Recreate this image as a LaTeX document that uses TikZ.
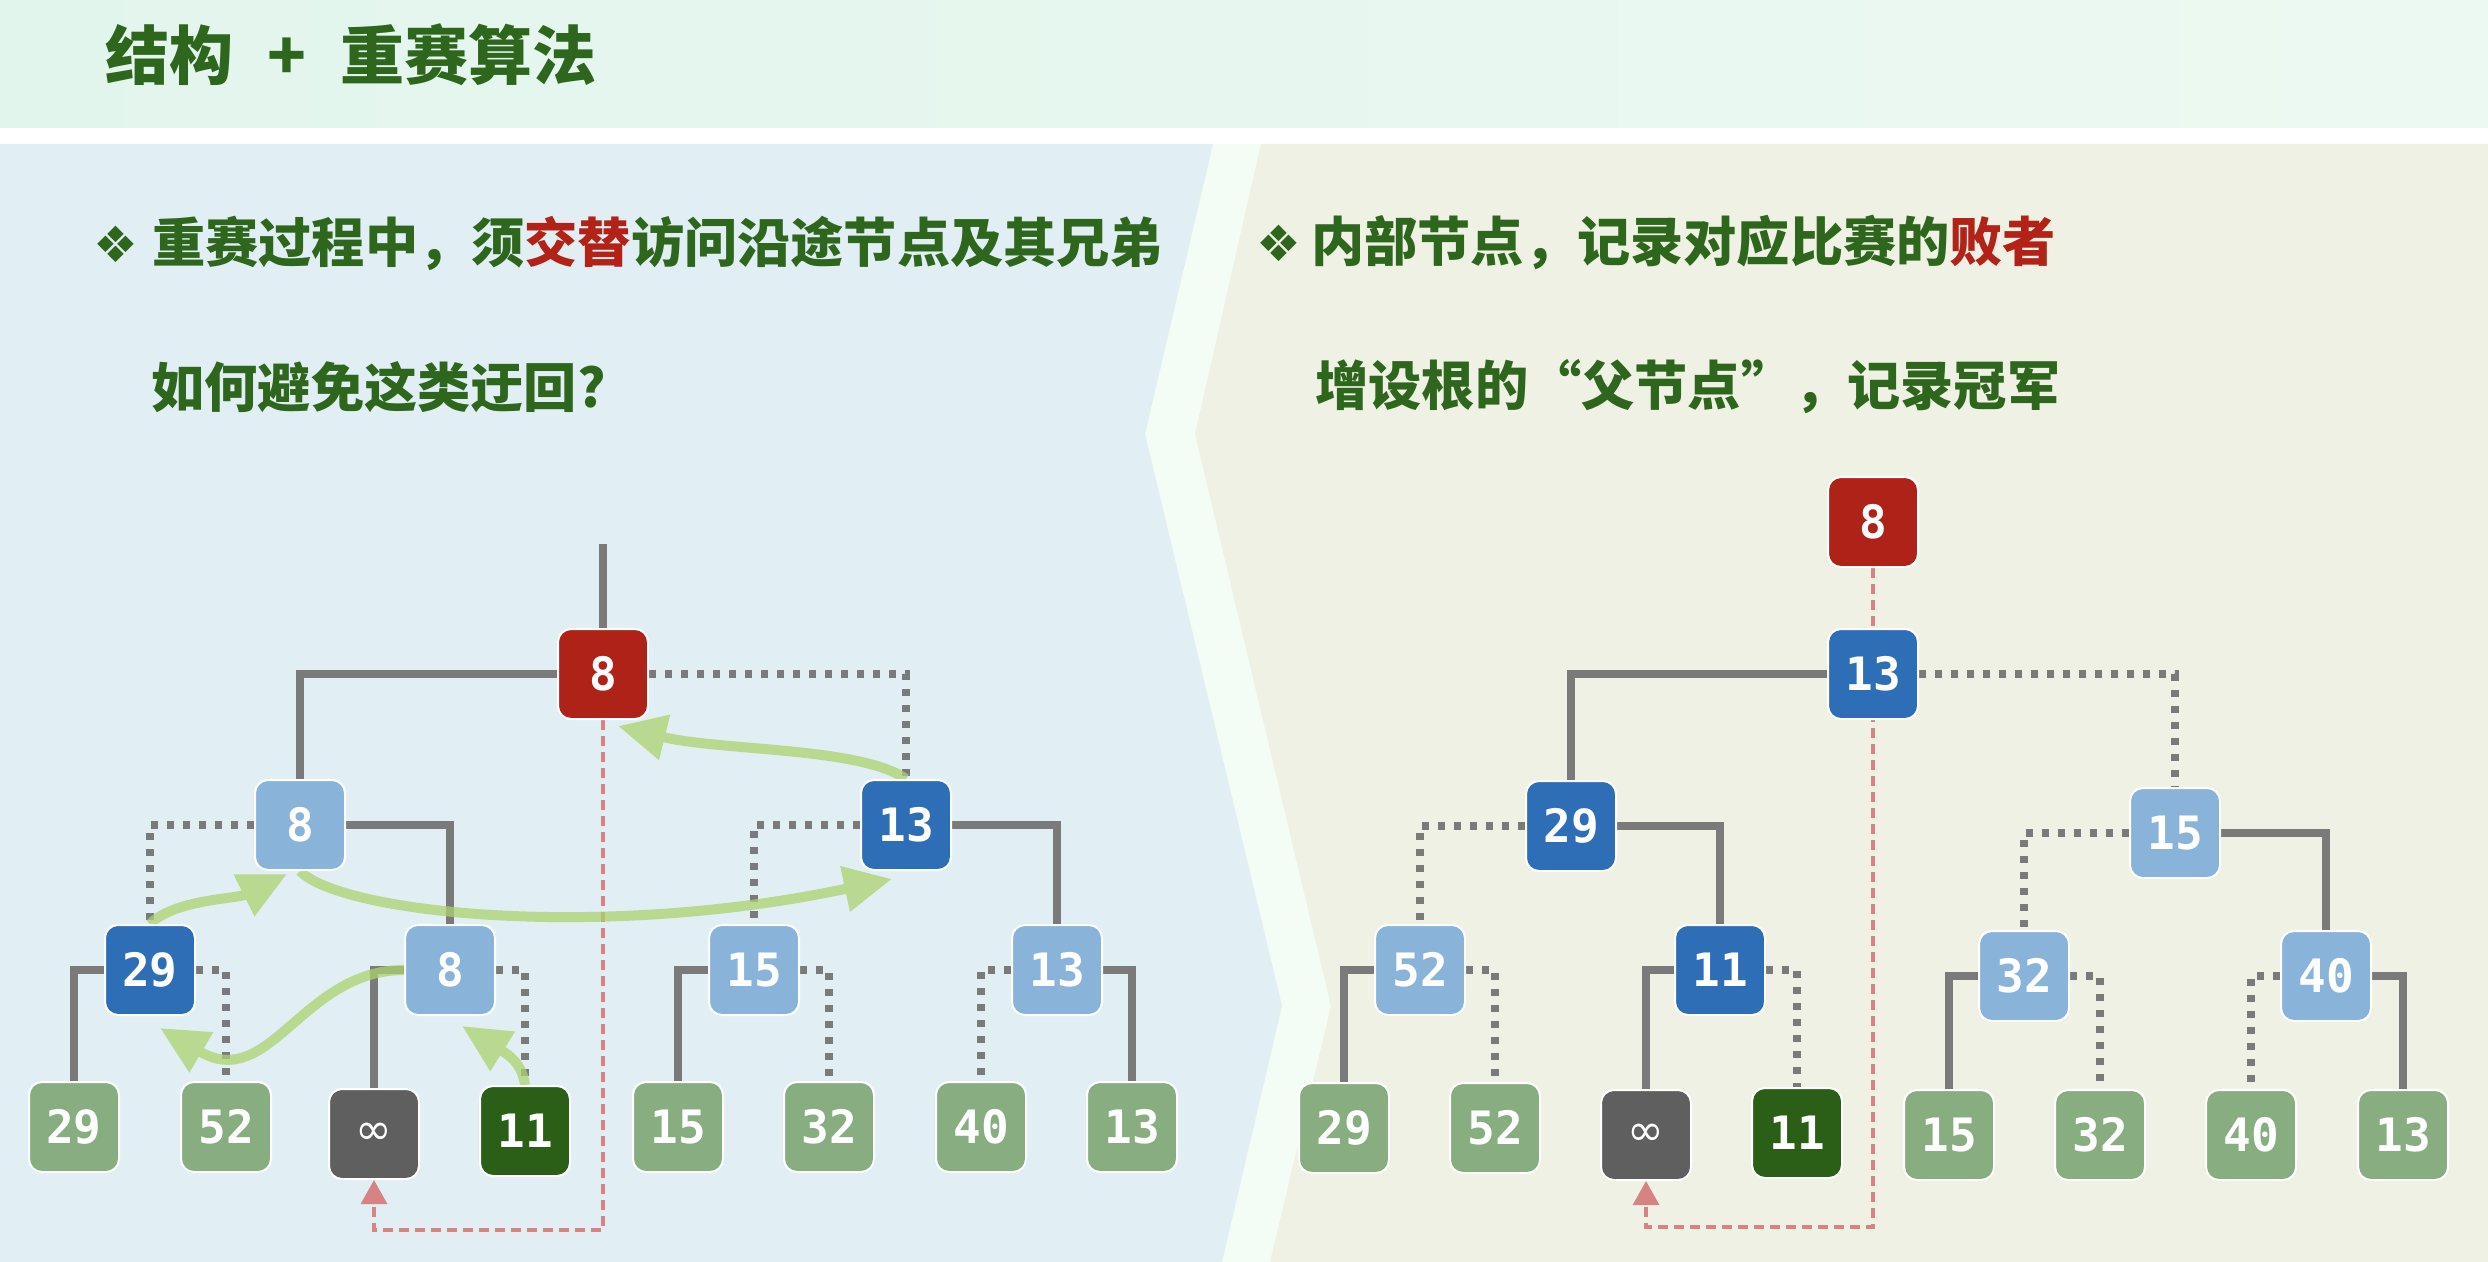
\documentclass[tikz,border=0pt]{standalone}
\usepackage{fontspec}
\usetikzlibrary{arrows.meta,calc}
\newfontfamily\cjk{Noto Sans CJK SC}
\newfontfamily\numfont{DejaVu Sans Mono}
\newfontfamily\symfont{DejaVu Sans}
\definecolor{hdleft}{HTML}{E2F5EC}
\definecolor{hdright}{HTML}{ECF9F2}
\definecolor{leftbg}{HTML}{E1EEF3}
\definecolor{rightbg}{HTML}{EEF1E4}
\definecolor{gapbg}{HTML}{F3FCF5}
\definecolor{txtgreen}{HTML}{2E661D}
\definecolor{hot}{HTML}{B22217}
\definecolor{champ}{HTML}{AF2217}
\definecolor{deep}{HTML}{2E6EB7}
\definecolor{pale}{HTML}{89B3D9}
\definecolor{leafc}{HTML}{87AD80}
\definecolor{infc}{HTML}{5F5F5F}
\definecolor{hitc}{HTML}{2B5E17}
\definecolor{wire}{HTML}{7A7A7A}
\definecolor{loser}{HTML}{D88383}
\definecolor{walkc}{HTML}{ACD36F}
\pgfdeclarelayer{back}
\pgfdeclarelayer{wires}
\pgfsetlayers{back,wires,main}
\newcommand{\fwq}{\addfontfeature{RawFeature=+fwid}}

\begin{document}
\begin{tikzpicture}[x=0.5pt, y=-0.5pt,
    box/.style={rectangle, rounded corners=6.5pt, draw=white, line width=1pt,
      minimum width=45pt, minimum height=45pt, inner sep=0pt, text=white,
      font=\numfont\bfseries\fontsize{23}{23}\selectfont},
    champbox/.style={box, fill=champ},
    deepbox/.style={box, fill=deep},
    palebox/.style={box, fill=pale},
    leafbox/.style={box, fill=leafc},
    infbox/.style={box, fill=infc, font=\symfont\fontsize{22}{22}\selectfont},
    hitbox/.style={box, fill=hitc},
    solidw/.style={draw=wire, line width=3.7pt},
    dotw/.style={draw=wire, line width=3.7pt, dash pattern=on 3.7pt off 4.3pt},
    lose/.style={draw=loser, line width=1.6pt, dash pattern=on 5pt off 3pt,
      -{Triangle[length=12pt, width=13pt]}},
    walk/.style={draw=walkc, line width=5pt,
      -{Triangle[length=24pt, width=22pt]}},
    head/.style={anchor=west, inner sep=0pt, text=txtgreen,
      font=\cjk\bfseries\fontsize{26.6}{30}\selectfont},
  ]
  \useasboundingbox (0,0) rectangle (2488,1262);

  % backgrounds
  \begin{pgfonlayer}{back}
    \fill[white] (0,0) rectangle (2488,1262);
    \shade[left color=hdleft, right color=hdright] (0,0) rectangle (2488,128);
    \fill[gapbg] (0,144) rectangle (2488,1262);
    \fill[leftbg] (0,144) -- (1213,144) -- (1145,434) -- (1282,1006)
      -- (1222,1262) -- (0,1262) -- cycle;
    \fill[rightbg] (1261,144) -- (2488,144) -- (2488,1262) -- (1270,1262)
      -- (1331,1006) -- (1195,434) -- cycle;
  \end{pgfonlayer}

  % texts
  \node[head, font=\cjk\bfseries\fontsize{32}{36}\selectfont] (title) at (105,55)
    {结构\hspace{17pt}+\hspace{17pt}重赛算法};
  \node[head] (q1) at (93,243)
    {{\symfont\fontsize{25}{25}\selectfont ❖}\hspace{7pt}重赛过程中，须{\color{hot}交替}访问沿途节点及其兄弟};
  \node[head] (q2) at (151,387) {如何避免这类迂回?};
  \node[head] (p1) at (1256,242)
    {{\symfont\fontsize{25}{25}\selectfont ❖}\hspace{5pt}内部节点，记录对应比赛的{\color{hot}败者}};
  \node[head] (p2) at (1315,387) {增设根的{\fwq “}父节点{\fwq ”}，记录冠军};

  % left tree
  \node[champbox] (lr) at (603,674) {8};
  \node[palebox] (l1a) at (300,825) {8};
  \node[deepbox] (l1b) at (906,825) {13};
  \node[deepbox] (l2a) at (150,970) {29};
  \node[palebox] (l2b) at (450,970) {8};
  \node[palebox] (l2c) at (754,970) {15};
  \node[palebox] (l2d) at (1057,970) {13};
  \node[leafbox] (ll1) at (74,1127) {29};
  \node[leafbox] (ll2) at (226,1127) {52};
  \node[infbox] (ll3) at (374,1134) {∞};
  \node[hitbox] (ll4) at (525,1131) {11};
  \node[leafbox] (ll5) at (678,1127) {15};
  \node[leafbox] (ll6) at (829,1127) {32};
  \node[leafbox] (ll7) at (981,1127) {40};
  \node[leafbox] (ll8) at (1132,1127) {13};
  \coordinate (ltop) at (603,544);

  % right tree
  \node[champbox] (rtop) at (1873,522) {8};
  \node[deepbox] (rr) at (1873,674) {13};
  \node[deepbox] (r1a) at (1571,826) {29};
  \node[palebox] (r1b) at (2175,833) {15};
  \node[palebox] (r2a) at (1420,970) {52};
  \node[deepbox] (r2b) at (1720,970) {11};
  \node[palebox] (r2c) at (2024,976) {32};
  \node[palebox] (r2d) at (2326,976) {40};
  \node[leafbox] (rl1) at (1344,1128) {29};
  \node[leafbox] (rl2) at (1495,1128) {52};
  \node[infbox] (rl3) at (1646,1135) {∞};
  \node[hitbox] (rl4) at (1797,1133) {11};
  \node[leafbox] (rl5) at (1949,1135) {15};
  \node[leafbox] (rl6) at (2100,1135) {32};
  \node[leafbox] (rl7) at (2251,1135) {40};
  \node[leafbox] (rl8) at (2403,1135) {13};

  \begin{pgfonlayer}{wires}
    % left connectors
    \draw[solidw] (ltop) -- (lr.north);
    \draw[solidw] (lr.west) -| (l1a.north);
    \draw[dotw] (lr.east) -| (l1b.north);
    \draw[dotw] (l1a.west) -| (l2a.north);
    \draw[solidw] (l1a.east) -| (l2b.north);
    \draw[dotw] (l1b.west) -| (l2c.north);
    \draw[solidw] (l1b.east) -| (l2d.north);
    \draw[solidw] (l2a.west) -| (ll1.north);
    \draw[dotw] (l2a.east) -| (ll2.north);
    \draw[solidw] (l2b.west) -| (ll3.north);
    \draw[dotw] (l2b.east) -| (ll4.north);
    \draw[solidw] (l2c.west) -| (ll5.north);
    \draw[dotw] (l2c.east) -| (ll6.north);
    \draw[dotw] (l2d.west) -| (ll7.north);
    \draw[solidw] (l2d.east) -| (ll8.north);
    \draw[lose] (lr.south) -- ++(0,510) -| (ll3.south);

    % walk along the path
    \begin{scope}[transparency group, opacity=0.75]
      \draw[walk] (ll4.north) .. controls +(-3,-25) and +(40,25) .. ($(l2b.south)+(12,10)$);
      \draw[walk] (l2b.west) .. controls +(-102,0) and +(110,65) .. ($(l2a.south)+(10,12)$);
      \draw[walk] (l2a.north) .. controls +(25,-25) and +(-50,25) .. ($(l1a.south)+(-13,3)$);
      \draw[walk] (l1a.south) .. controls +(40,42) and +(-292,62) .. ($(l1b.south)+(-14,8)$);
      \draw[walk] (l1b.north) .. controls +(-45,-32) and +(102,25) .. ($(lr.south)+(15,6)$);
    \end{scope}

    % right connectors
    \draw[solidw] (rr.west) -| (r1a.north);
    \draw[dotw] (rr.east) -| (r1b.north);
    \draw[dotw] (r1a.west) -| (r2a.north);
    \draw[solidw] (r1a.east) -| (r2b.north);
    \draw[dotw] (r1b.west) -| (r2c.north);
    \draw[solidw] (r1b.east) -| (r2d.north);
    \draw[solidw] (r2a.west) -| (rl1.north);
    \draw[dotw] (r2a.east) -| (rl2.north);
    \draw[solidw] (r2b.west) -| (rl3.north);
    \draw[dotw] (r2b.east) -| (rl4.north);
    \draw[solidw] (r2c.west) -| (rl5.north);
    \draw[dotw] (r2c.east) -| (rl6.north);
    \draw[dotw] (r2d.west) -| (rl7.north);
    \draw[solidw] (r2d.east) -| (rl8.north);
    \draw[lose] (rtop.south) -- ++(0,659) -| (rl3.south);
  \end{pgfonlayer}
\end{tikzpicture}
\end{document}
